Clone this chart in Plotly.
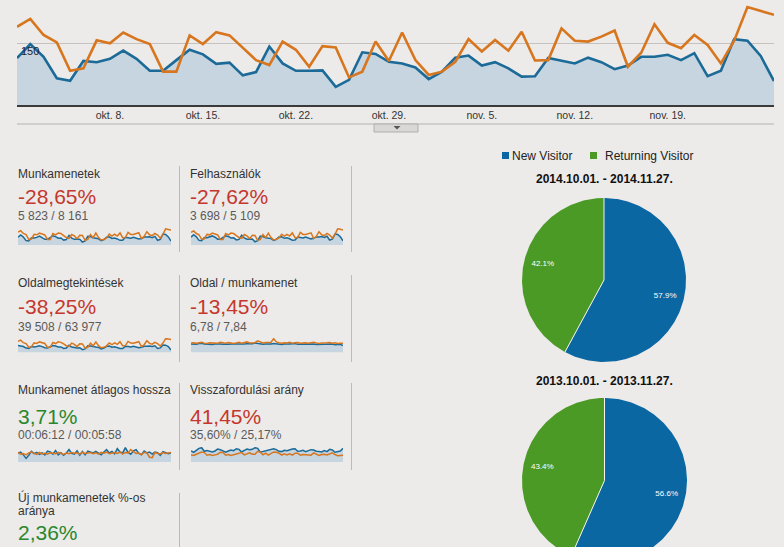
import numpy as np
import pandas as pd
import plotly.graph_objects as go

W, H = 784, 547
def px(x): return x / W
def py(y): return 1 - y / H

# ---------------- data ----------------
dates = pd.date_range("2014-10-01", "2014-11-27", freq="D")
tick_dates = ["2014-10-08", "2014-10-15", "2014-10-22", "2014-10-29",
              "2014-11-05", "2014-11-12", "2014-11-19"]
tick_labels = ["okt. 8.", "okt. 15.", "okt. 22.", "okt. 29.",
               "nov. 5.", "nov. 12.", "nov. 19."]

sessions_2014 = [114,148,117,65,59,107,104,112,132,112,83,83,109,134,123,100,103,72,80,142,
                 101,83,83,84,44,61,128,124,105,101,91,63,81,115,120,96,104,89,69,70,
                 114,108,101,115,104,87,96,117,117,122,109,126,70,83,160,156,119,58]
sessions_2013 = [190,209,170,152,83,89,157,150,176,160,148,81,81,169,148,177,169,139,109,97,
                 154,134,93,143,140,67,81,154,107,176,109,73,81,105,160,130,158,132,178,108,
                 109,186,156,154,166,181,93,127,196,151,138,170,146,101,156,238,229,219]
users_2014 = [73,95,75,43,39,69,67,72,84,72,54,54,70,85,79,65,66,47,52,90,
              65,54,54,55,30,40,82,79,68,65,59,42,53,74,77,62,67,58,45,46,
              73,70,65,74,67,57,62,75,75,78,70,81,46,54,101,98,76,39]
users_2013 = [118,130,106,95,53,57,98,94,110,100,93,52,52,106,93,111,106,87,69,62,
              97,84,59,90,88,43,52,97,68,110,69,47,52,66,100,82,99,83,112,68,
              69,117,98,97,104,113,59,80,123,95,87,107,92,64,98,150,145,138]
pageviews_2014 = [820,760,700,520,480,690,650,700,800,690,560,540,680,820,760,640,650,470,520,850,
                  640,560,540,560,330,420,780,760,660,640,600,420,520,720,760,620,680,590,460,470,
                  720,690,650,730,680,570,620,740,740,770,700,790,470,540,880,860,700,300]
pageviews_2013 = [1300,1450,1150,1050,620,660,1120,1060,1240,1150,1060,600,610,1180,1050,1250,1190,1000,800,720,
                  1100,960,690,1030,1010,520,610,1100,790,1240,800,560,610,780,1130,930,1120,950,1260,800,
                  810,1300,1100,1090,1170,1270,690,910,1380,1070,980,1200,1040,760,1100,1620,1580,1520]
pps_2014 = [6.9,6.5,6.6,7.3,7.5,6.8,6.6,6.7,6.5,6.8,7.0,6.9,6.6,6.5,6.7,6.9,6.8,7.1,7.0,6.4,
            6.8,7.2,6.9,7.0,7.6,7.2,6.5,6.6,6.8,6.7,6.9,7.3,7.0,6.6,6.5,6.9,6.7,6.9,7.1,7.2,
            6.6,6.7,6.8,6.6,6.8,7.0,6.9,6.5,6.6,6.4,6.8,6.5,7.2,6.9,6.2,6.3,6.6,5.6]
pps_2013 = [7.6,7.9,7.5,7.8,8.2,7.6,7.4,7.9,7.7,8.0,7.5,8.3,7.9,7.6,8.1,7.7,7.4,7.8,8.2,7.5,
            7.9,8.6,7.8,7.6,8.0,9.5,8.4,7.7,8.1,7.9,8.3,11.2,8.6,7.9,7.6,8.0,7.7,8.2,7.6,7.9,
            8.1,7.5,7.8,8.0,7.6,7.9,8.3,7.7,7.4,7.8,7.6,7.9,8.1,7.5,7.8,7.3,7.6,7.5]
duration_2014 = [380,420,300,150,280,450,350,400,320,380,300,460,420,330,480,300,390,280,380,520,
                 360,330,470,290,440,300,460,420,380,450,360,300,420,520,380,440,340,560,420,380,
                 600,400,330,470,520,360,310,460,380,420,330,420,390,280,430,400,350,380]
duration_2013 = [400,330,360,300,380,420,360,320,400,340,370,330,390,380,350,410,360,320,380,350,
                 400,370,390,330,410,360,380,400,350,390,330,410,370,420,350,380,400,360,420,330,
                 400,380,520,430,360,380,300,410,380,200,180,390,380,340,400,360,380,400]
bounce_2014 = [34,30,36,42,44,33,35,32,31,34,40,38,33,30,34,37,35,41,39,31,
               36,40,38,39,44,42,30,32,35,36,37,41,38,33,32,36,35,38,40,41,
               33,34,36,32,35,38,37,33,32,31,35,32,39,37,30,31,34,42]
bounce_2013 = [22,20,24,27,31,29,21,23,20,22,24,30,29,21,23,20,22,26,28,29,
               22,25,28,24,24,33,30,22,27,21,27,31,30,27,21,25,22,25,21,27,
               27,21,23,23,22,21,28,25,20,23,24,22,24,28,23,19,20,21]

metric_names = ["Munkamenetek", "Felhasználók", "Oldalmegtekintések", "Oldal / munkamenet",
                "Munkamenet átlagos hossza", "Visszafordulási arány",
                "Új munkamenetek %-os aránya"]
metric_changes = ["-28,65%", "-27,62%", "-38,25%", "-13,45%", "3,71%", "41,45%", "2,36%"]
metric_totals = ["5 823 / 8 161", "3 698 / 5 109", "39 508 / 63 977", "6,78 / 7,84",
                 "00:06:12 / 00:05:58", "35,60% / 25,17%", ""]
metric_good = [False, False, False, False, True, False, True]
spark_current = [sessions_2014, users_2014, pageviews_2014, pps_2014, duration_2014, bounce_2014]
spark_previous = [sessions_2013, users_2013, pageviews_2013, pps_2013, duration_2013, bounce_2013]

pie_labels = ["New Visitor", "Returning Visitor"]
pie_titles = ["2014.10.01. - 2014.11.27.", "2013.10.01. - 2013.11.27."]
new_visitor_pct = [57.9, 56.6]
returning_visitor_pct = [42.1, 43.4]

# ---------------- styles ----------------
BG = "#ecebe9"
BLUE = "#1b6a98"
ORANGE = "#d7761e"
FILL = "#c6d5e0"
PIE_BLUE = "#0b67a2"
PIE_GREEN = "#4b9a26"
RED = "#c5372d"
GREEN = "#2a872d"
FONT = "Liberation Sans, Arial, sans-serif"

fig = go.Figure()
layout = dict(width=W, height=H, autosize=False, margin=dict(l=0, r=0, t=0, b=0),
              paper_bgcolor=BG, plot_bgcolor=BG, showlegend=False,
              font=dict(family=FONT, color="#333"))
annotations, shapes = [], []

x_range = [dates[0], dates[-1]]

# ---------------- main chart ----------------
fig.add_trace(go.Scatter(x=dates, y=sessions_2014, mode="lines", fill="tozeroy",
                         fillcolor=FILL, line=dict(color=BLUE, width=2.6),
                         xaxis="x", yaxis="y", hoverinfo="skip"))
fig.add_trace(go.Scatter(x=dates, y=sessions_2013, mode="lines",
                         line=dict(color=ORANGE, width=2.6),
                         xaxis="x", yaxis="y", hoverinfo="skip"))
layout["xaxis"] = dict(domain=[px(17), px(774)], range=x_range, anchor="y",
                       tickvals=tick_dates, ticktext=tick_labels, ticks="",
                       tickfont=dict(size=10.5, color="#333"), showgrid=False,
                       showline=True, linecolor="#3a3a3a", linewidth=1.5,
                       zeroline=False, fixedrange=True)
layout["yaxis"] = dict(domain=[py(105), 1], range=[0, 255], anchor="x",
                       tickvals=[150], showticklabels=False, ticks="",
                       showgrid=True, gridcolor="#c4c1be", gridwidth=1,
                       zeroline=False, fixedrange=True)
annotations.append(dict(text="150", x=px(19), y=py(51), xref="paper", yref="paper",
                        xanchor="left", yanchor="middle", showarrow=False,
                        font=dict(size=11, color="#222")))
shapes.append(dict(type="line", xref="paper", yref="paper", x0=px(17), x1=px(774),
                   y0=py(124), y1=py(124), line=dict(color="#b5b3b1", width=1)))
shapes.append(dict(type="rect", xref="paper", yref="paper", x0=px(374), x1=px(418),
                   y0=py(132), y1=py(124), fillcolor="#d9d8d6",
                   line=dict(color="#b0aeac", width=1)))
shapes.append(dict(type="path", xref="paper", yref="paper",
                   path=f"M {px(393.5)},{py(126)} L {px(400.5)},{py(126)} L {px(397)},{py(129.5)} Z",
                   fillcolor="#555", line=dict(width=0)))

# ---------------- metric cards ----------------
col_x = [16, 188]
title_y = [174, 283, 390, 497]
big_y = [196.5, 306, 416, 532.5]
sub_y = [216, 327, 434.5]
spark_rows = [(228, 245), (338, 352.5), (447, 462)]
spark_cols = [(18, 171), (191, 343)]

for i, name in enumerate(metric_names):
    r, c = divmod(i, 2)
    if r < 3:
        annotations.append(dict(text=name, x=px(col_x[c]), y=py(title_y[r]), xref="paper", yref="paper",
                                xanchor="left", yanchor="middle", showarrow=False,
                                font=dict(size=12, color="#333")))
    else:
        words = name.rsplit(" ", 1)
        annotations.append(dict(text=words[0], x=px(col_x[c]), y=py(title_y[r]), xref="paper", yref="paper",
                                xanchor="left", yanchor="middle", showarrow=False,
                                font=dict(size=12, color="#333")))
        annotations.append(dict(text=words[1], x=px(col_x[c]), y=py(title_y[r] + 14), xref="paper",
                                yref="paper", xanchor="left", yanchor="middle", showarrow=False,
                                font=dict(size=12, color="#333")))
    annotations.append(dict(text=metric_changes[i], x=px(col_x[c] - 0.5), y=py(big_y[r]), xref="paper",
                            yref="paper", xanchor="left", yanchor="middle", showarrow=False,
                            font=dict(size=21, color=GREEN if metric_good[i] else RED)))
    if r < 3:
        annotations.append(dict(text=metric_totals[i], x=px(col_x[c]), y=py(sub_y[r]), xref="paper",
                                yref="paper", xanchor="left", yanchor="middle", showarrow=False,
                                font=dict(size=12, color="#5a5a5a")))
        ax = i + 2
        cur, prev = spark_current[i], spark_previous[i]
        top = max(max(cur), max(prev)) * 1.05
        fig.add_trace(go.Scatter(x=dates, y=cur, mode="lines", fill="tozeroy", fillcolor=FILL,
                                 line=dict(color=BLUE, width=1.5), xaxis=f"x{ax}", yaxis=f"y{ax}",
                                 hoverinfo="skip"))
        fig.add_trace(go.Scatter(x=dates, y=prev, mode="lines",
                                 line=dict(color=ORANGE, width=1.5), xaxis=f"x{ax}", yaxis=f"y{ax}",
                                 hoverinfo="skip"))
        x0, x1 = spark_cols[c]
        y0, y1 = spark_rows[r]
        layout[f"xaxis{ax}"] = dict(domain=[px(x0), px(x1)], range=x_range, anchor=f"y{ax}",
                                    visible=False, fixedrange=True)
        layout[f"yaxis{ax}"] = dict(domain=[py(y1), py(y0)], range=[0, top], anchor=f"x{ax}",
                                    visible=False, fixedrange=True)

# separators
sep_rows = [(166, 252), (275, 362), (383, 470)]
for (a, b) in sep_rows:
    for sx in (179.5, 351.5):
        shapes.append(dict(type="line", xref="paper", yref="paper", x0=px(sx), x1=px(sx),
                           y0=py(a), y1=py(b), line=dict(color="#bdbbb9", width=1)))
shapes.append(dict(type="line", xref="paper", yref="paper", x0=px(179.5), x1=px(179.5),
                   y0=py(493), y1=0, line=dict(color="#bdbbb9", width=1)))

# ---------------- legend ----------------
for (sx, tx, col, lab) in [(502, 510, PIE_BLUE, pie_labels[0]), (590, 603, PIE_GREEN, pie_labels[1])]:
    shapes.append(dict(type="rect", xref="paper", yref="paper", x0=px(sx), x1=px(sx + 7),
                       y0=py(159), y1=py(152), fillcolor=col, line=dict(width=0)))
    annotations.append(dict(text=lab, x=px(tx), y=py(155.5), xref="paper", yref="paper",
                            xanchor="left", yanchor="middle", showarrow=False,
                            font=dict(size=12, color="#222")))

# ---------------- pies ----------------
pie_boxes = [dict(x=(522, 686), y=(198, 362), yr=[-1, 1]),
             dict(x=(522, 687), y=(398, 547), yr=[1 - 149 / 82.5, 1])]
title_ys = [179, 381]
for k in range(2):
    ax = 8 + k
    shares = [new_visitor_pct[k], returning_visitor_pct[k]]
    total = sum(shares)
    start = 0.0
    for j, (s, col) in enumerate(zip(shares, [PIE_BLUE, PIE_GREEN])):
        a0 = start
        a1 = start + 2 * np.pi * s / total
        t = np.linspace(a0, a1, 200)
        xs = np.concatenate([[0], np.sin(t), [0]])
        ys = np.concatenate([[0], np.cos(t), [0]])
        fig.add_trace(go.Scatter(x=xs, y=ys, mode="lines", fill="toself", fillcolor=col,
                                 line=dict(width=0, color=col), xaxis=f"x{ax}", yaxis=f"y{ax}",
                                 hoverinfo="skip", name=pie_labels[j]))
        mid = (a0 + a1) / 2
        fig.add_trace(go.Scatter(x=[0.77 * np.sin(mid)], y=[0.77 * np.cos(mid)], mode="text",
                                 text=[f"{s:.1f}%"], textposition="middle center",
                                 textfont=dict(size=8, color="#ffffff"),
                                 xaxis=f"x{ax}", yaxis=f"y{ax}", hoverinfo="skip"))
        start = a1
    # white separators
    cut = 2 * np.pi * shares[0] / total
    fig.add_trace(go.Scatter(x=[0, 0, None, 0, np.sin(cut)], y=[1, 0, None, 0, np.cos(cut)],
                             mode="lines", line=dict(color="#f4f4f0", width=1),
                             xaxis=f"x{ax}", yaxis=f"y{ax}", hoverinfo="skip"))
    b = pie_boxes[k]
    layout[f"xaxis{ax}"] = dict(domain=[px(b["x"][0]), px(b["x"][1])], range=[-1, 1],
                                anchor=f"y{ax}", visible=False, fixedrange=True)
    layout[f"yaxis{ax}"] = dict(domain=[py(b["y"][1]), py(b["y"][0])], range=b["yr"],
                                anchor=f"x{ax}", visible=False, fixedrange=True)
    annotations.append(dict(text=f"<b>{pie_titles[k]}</b>", x=px(604), y=py(title_ys[k]),
                            xref="paper", yref="paper", xanchor="center", yanchor="middle",
                            showarrow=False, font=dict(size=12, color="#111")))

layout["annotations"] = annotations
layout["shapes"] = shapes
fig.update_layout(**layout)
fig.write_html("out.html")
